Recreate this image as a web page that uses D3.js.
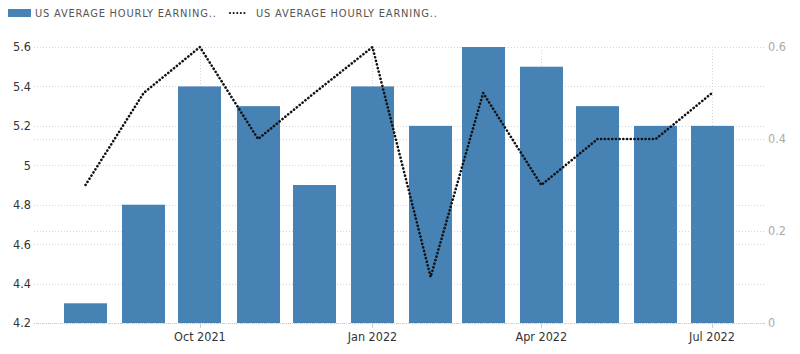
<!DOCTYPE html>
<html>
<head>
<meta charset="utf-8">
<script src="https://cdn.jsdelivr.net/npm/d3@7"></script>
<style>
  body { margin: 0; background: #fff; }
  text { font-family: "DejaVu Sans Condensed", "DejaVu Sans", sans-serif; }
</style>
</head>
<body>
<div id="chart"></div>
<script>
// monthly data, Aug 2021 .. Jul 2022
var months = ["2021-08-01", "2021-09-01", "2021-10-01", "2021-11-01", "2021-12-01", "2022-01-01",
              "2022-02-01", "2022-03-01", "2022-04-01", "2022-05-01", "2022-06-01", "2022-07-01"];
var yoyValues = [4.3, 4.8, 5.4, 5.3, 4.9, 5.4, 5.2, 5.6, 5.5, 5.3, 5.2, 5.2];
var momValues = [0.3, 0.5, 0.6, 0.4, 0.5, 0.6, 0.1, 0.5, 0.3, 0.4, 0.4, 0.5];
var leftTicks = [4.2, 4.4, 4.6, 4.8, 5, 5.2, 5.4, 5.6];
var rightTicks = [0, 0.2, 0.4, 0.6];
var xTicks = ["2021-10-01", "2022-01-01", "2022-04-01", "2022-07-01"];
var xTickLabels = ["Oct 2021", "Jan 2022", "Apr 2022", "Jul 2022"];
var legendLabels = ["US AVERAGE HOURLY EARNING..", "US AVERAGE HOURLY EARNING.."];

var width = 800, height = 354;
var gridLeft = 34, gridRight = 765;
var barW = 43;
var parse = d3.timeParse("%Y-%m-%d");

var svg = d3.select("#chart").append("svg")
  .attr("width", width).attr("height", height);

// time scale: bars are centred on the first of each month
var x = d3.scaleTime()
  .domain([parse(months[0]), parse(months[months.length - 1])])
  .range([85.5, 712]);
var yL = d3.scaleLinear().domain([4.2, 5.6]).range([323, 47]);
var yR = d3.scaleLinear().domain([0, 0.6]).range([323, 47]);

function cx(d) { return x(parse(d)); }
function px(v) { return Math.round(v) + 0.5; }

var grid = svg.append("g").attr("stroke", "#d4d4d4").attr("stroke-dasharray", "1,2");
// horizontal grid, left axis
grid.selectAll("line.gl").data(leftTicks).enter().append("line")
  .attr("x1", gridLeft).attr("x2", gridRight)
  .attr("y1", function (d) { return px(yL(d)); })
  .attr("y2", function (d) { return px(yL(d)); });
// horizontal grid, right axis
grid.selectAll("line.gr").data(rightTicks).enter().append("line")
  .attr("x1", gridLeft).attr("x2", gridRight)
  .attr("y1", function (d) { return px(yR(d)); })
  .attr("y2", function (d) { return px(yR(d)); });
// vertical grid at x ticks
grid.selectAll("line.gv").data(xTicks).enter().append("line")
  .attr("x1", function (d) { return px(cx(d)); })
  .attr("x2", function (d) { return px(cx(d)); })
  .attr("y1", 47).attr("y2", 323);

// bars
svg.append("g").selectAll("rect").data(months).enter().append("rect")
  .attr("x", function (d) { return Math.round(cx(d) - barW / 2); })
  .attr("width", barW)
  .attr("y", function (d, i) { return yL(yoyValues[i]); })
  .attr("height", function (d, i) { return yL(4.2) - yL(yoyValues[i]); })
  .attr("fill", "#4682b4");

// baseline + x ticks
svg.append("line").attr("x1", gridLeft).attr("x2", gridRight)
  .attr("y1", 323.5).attr("y2", 323.5).attr("stroke", "#ccc").attr("stroke-dasharray", "1,1");
svg.append("g").selectAll("line").data(xTicks).enter().append("line")
  .attr("x1", function (d) { return px(cx(d)); })
  .attr("x2", function (d) { return px(cx(d)); })
  .attr("y1", 323).attr("y2", 328).attr("stroke", "#ccc");

// dotted line series
var line = d3.line()
  .x(function (d, i) { return cx(months[i]); })
  .y(function (d) { return yR(d); });
svg.append("path").datum(momValues)
  .attr("d", line)
  .attr("fill", "none")
  .attr("stroke", "#111")
  .attr("stroke-width", 2.6)
  .attr("stroke-linecap", "round")
  .attr("stroke-dasharray", "0.1,3.6");

// axis labels
svg.append("g").selectAll("text").data(leftTicks).enter().append("text")
  .attr("x", 31).attr("y", function (d) { return yL(d); })
  .attr("dy", "0.35em").attr("text-anchor", "end")
  .attr("fill", "#333").style("font-size", "12.5px")
  .text(function (d) { return d3.format("")(d); });
svg.append("g").selectAll("text").data(rightTicks).enter().append("text")
  .attr("x", 768).attr("y", function (d) { return yR(d); })
  .attr("dy", "0.35em").attr("text-anchor", "start")
  .attr("fill", "#aaa").style("font-size", "12.5px")
  .text(function (d) { return d3.format("")(d); });
svg.append("g").selectAll("text").data(xTicks).enter().append("text")
  .attr("x", function (d) { return cx(d); })
  .attr("y", 341).attr("text-anchor", "middle")
  .attr("fill", "#333").style("font-size", "12.5px")
  .text(function (d, i) { return xTickLabels[i]; });

// legend
var lg = svg.append("g").style("font-family", "'DejaVu Sans', sans-serif");
lg.append("rect").attr("x", 8).attr("y", 9).attr("width", 23).attr("height", 8).attr("fill", "#4682b4");
lg.append("text").attr("x", 35).attr("y", 17).attr("fill", "#555")
  .style("font-size", "11px").style("letter-spacing", "0.8px").text(legendLabels[0]);
lg.append("line").attr("x1", 230).attr("x2", 246).attr("y1", 13).attr("y2", 13)
  .attr("stroke", "#111").attr("stroke-width", 2).attr("stroke-linecap", "round")
  .attr("stroke-dasharray", "0.1,3.5");
lg.append("text").attr("x", 256).attr("y", 17).attr("fill", "#555")
  .style("font-size", "11px").style("letter-spacing", "0.8px").text(legendLabels[1]);
</script>
</body>
</html>
